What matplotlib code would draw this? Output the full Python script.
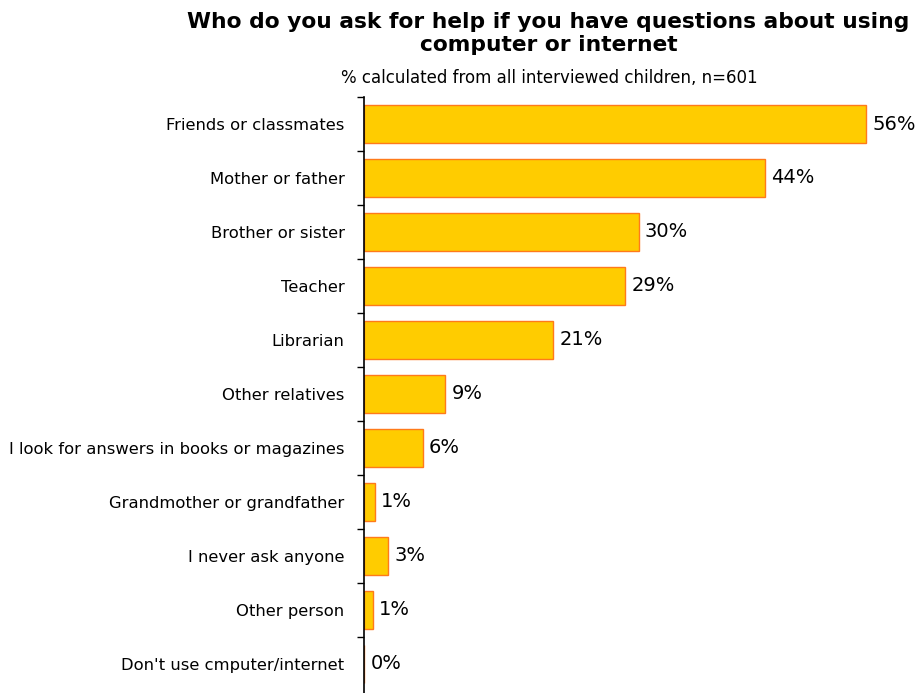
import matplotlib
matplotlib.use("Agg")
import matplotlib.pyplot as plt
import numpy as np

CATEGORIES = [
    "Friends or classmates",
    "Mother or father",
    "Brother or sister",
    "Teacher",
    "Librarian",
    "Other relatives",
    "I look for answers in books or magazines",
    "Grandmother or grandfather",
    "I never ask anyone",
    "Other person",
    "Don't use cmputer/internet",
]
VALUES = [56, 44, 30, 29, 21, 9, 6, 1, 3, 1, 0]
BAR_VALUES = [55.8, 44.5, 30.5, 29, 21, 9, 6.5, 1.2, 2.7, 1.0, 0]

fig = plt.figure(figsize=(9.2, 6.93), dpi=100)
ax = fig.add_axes([0.3957, 0.0, 0.587, 0.86])

y = np.arange(len(CATEGORIES))
ax.barh(y, BAR_VALUES, height=0.7, color="#FFCC00", edgecolor="#FF7A1A",
        linewidth=1.0)
for yi, bv, v in zip(y, BAR_VALUES, VALUES):
    ax.text(bv + 0.7, yi, f"{v}%", va="center", ha="left", fontsize=14)

ax.set_ylim(len(CATEGORIES) - 0.5 + 0.04, -0.5)
ax.set_xlim(0, 60)
ax.set_yticks(y)
ax.set_yticklabels(CATEGORIES, fontsize=11.8)
ax.tick_params(axis="y", which="major", length=0, pad=14)
ax.set_yticks(np.arange(len(CATEGORIES)) - 0.5, minor=True)
ax.tick_params(axis="y", which="minor", length=5, width=1)
ax.set_xticks([])
for s in ["top", "right", "bottom"]:
    ax.spines[s].set_visible(False)
ax.spines["left"].set_linewidth(1.2)

fig.text(0.596, 0.952, "Who do you ask for help if you have questions about using\ncomputer or internet",
         ha="center", va="center", fontsize=15.7, fontweight="bold", linespacing=1.2)
fig.text(0.597, 0.887, "% calculated from all interviewed children, n=601",
         ha="center", va="center", fontsize=12)

fig.savefig("out.png", dpi=100)
